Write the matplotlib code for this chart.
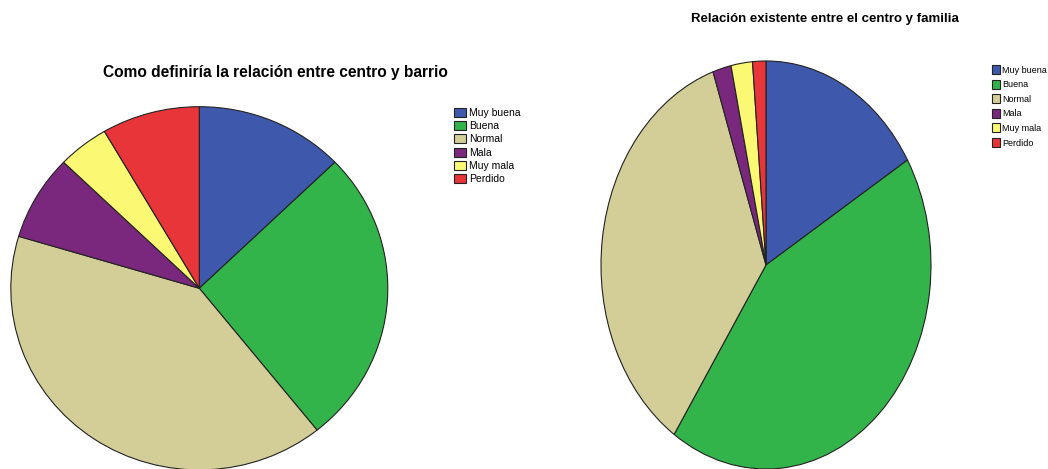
import matplotlib
matplotlib.use("Agg")
import matplotlib.pyplot as plt

labels = ["Muy buena", "Buena", "Normal", "Mala", "Muy mala", "Perdido"]
barrio = [12.8, 26.5, 40.4, 7.6, 4.4, 8.4]
familia = [16.4, 43.0, 35.4, 1.8, 2.1, 1.3]
colors = ["#3e58ac", "#32b44a", "#d3ce98", "#7a287e", "#fbf873", "#e8353a"]

W, H = 1048, 469
fig = plt.figure(figsize=(W / 100, H / 100), dpi=100)
fig.patch.set_facecolor("white")


def px_axes(x0, y0, x1, y1):
    # pixel box (top-down) -> figure axes
    return fig.add_axes([x0 / W, (H - y1) / H, (x1 - x0) / W, (y1 - y0) / H])


def draw_pie(ax, vals):
    wedges, _ = ax.pie(vals, colors=colors, startangle=90, counterclock=False,
                       wedgeprops=dict(edgecolor="#222222", linewidth=0.8))
    ax.set_aspect("auto")
    ax.set_xlim(-1, 1)
    ax.set_ylim(-1, 1)
    ax.axis("off")
    return wedges


# left pie
ax1 = px_axes(10.8, 106.7, 387.8, 469.9)
w1 = draw_pie(ax1, barrio)
fig.text(275 / W, 1 - 72 / H, "Como definiría la relación entre centro y barrio",
         ha="center", va="center", fontsize=11.2, fontweight="bold",
         family="Liberation Sans")
fig.legend(w1, labels, loc="upper left", bbox_to_anchor=(454 / W, 1 - 108 / H),
           frameon=False, prop=dict(family="Liberation Sans", size=7.5),
           handlelength=1.15, handleheight=0.95, labelspacing=0.3,
           handletextpad=0.3, borderpad=0, borderaxespad=0)

# right pie
ax2 = px_axes(601, 61, 931, 469)
w2 = draw_pie(ax2, familia)
fig.text(825 / W, 1 - 19 / H, "Relación existente entre el centro y familia",
         ha="center", va="center", fontsize=9.5, fontweight="bold",
         family="Liberation Sans")
fig.legend(w2, labels, loc="upper left", bbox_to_anchor=(992 / W, 1 - 65 / H),
           frameon=False, prop=dict(family="Liberation Sans", size=6.5),
           handlelength=0.9, handleheight=1.15, labelspacing=0.56,
           handletextpad=0.2, borderpad=0, borderaxespad=0)

fig.savefig("out.png", dpi=100, facecolor="white")
